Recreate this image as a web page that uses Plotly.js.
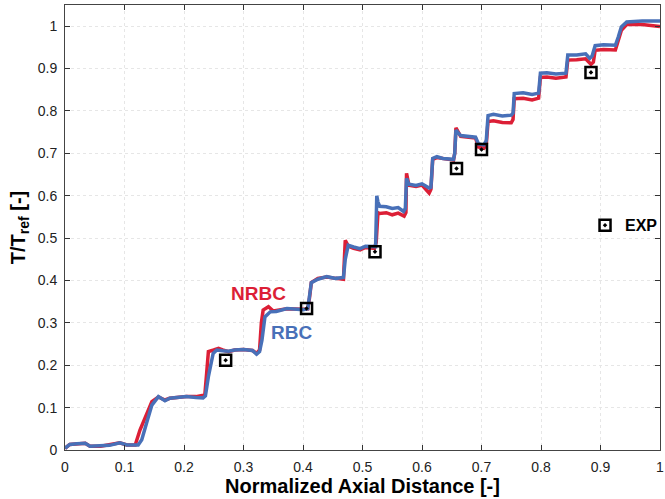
<!DOCTYPE html>
<html>
<head>
<meta charset="utf-8">
<script src="https://cdn.plot.ly/plotly-3.0.1.min.js"></script>
<style>html,body{margin:0;padding:0;background:#fff;}#chart{width:665px;height:499px;}</style>
</head>
<body>
<div id="chart"></div>
<script>
// RBC (blue)
const rbcX = [0,0.008,0.02,0.034,0.042,0.06,0.075,0.092,0.104,0.123,0.129,0.137,0.146,0.157,0.168,0.176,0.19,0.204,0.22,0.232,0.236,0.238,0.241,0.249,0.255,0.265,0.275,0.285,0.30,0.315,0.322,0.327,0.331,0.336,0.345,0.355,0.373,0.39,0.40,0.408,0.411,0.414,0.425,0.44,0.455,0.468,0.471,0.476,0.485,0.496,0.505,0.518,0.522,0.524,0.526,0.529,0.54,0.55,0.56,0.569,0.572,0.574,0.578,0.59,0.60,0.612,0.615,0.618,0.625,0.635,0.653,0.655,0.657,0.665,0.68,0.69,0.695,0.704,0.708,0.711,0.72,0.735,0.75,0.753,0.755,0.77,0.785,0.796,0.799,0.81,0.825,0.842,0.845,0.86,0.875,0.882,0.886,0.891,0.905,0.925,0.93,0.935,0.944,0.97,1.0];
const rbcY = [0.004,0.013,0.015,0.016,0.009,0.009,0.011,0.017,0.012,0.012,0.024,0.063,0.106,0.126,0.116,0.122,0.124,0.126,0.124,0.123,0.128,0.150,0.173,0.228,0.236,0.234,0.233,0.236,0.237,0.235,0.226,0.232,0.259,0.314,0.326,0.327,0.334,0.332,0.331,0.333,0.36,0.395,0.403,0.409,0.405,0.407,0.45,0.483,0.479,0.475,0.481,0.479,0.480,0.600,0.585,0.575,0.574,0.570,0.572,0.563,0.57,0.641,0.627,0.624,0.628,0.618,0.620,0.688,0.692,0.688,0.686,0.70,0.755,0.742,0.740,0.738,0.722,0.72,0.73,0.789,0.792,0.788,0.790,0.795,0.841,0.843,0.839,0.842,0.889,0.890,0.887,0.889,0.932,0.932,0.935,0.924,0.93,0.954,0.956,0.955,0.975,0.998,1.010,1.012,1.012];
// NRBC (red)
const nrbcX = [0,0.008,0.034,0.042,0.06,0.092,0.104,0.118,0.126,0.137,0.146,0.157,0.168,0.176,0.204,0.22,0.235,0.238,0.241,0.25,0.258,0.265,0.275,0.285,0.30,0.315,0.322,0.327,0.330,0.333,0.342,0.35,0.373,0.40,0.408,0.411,0.414,0.425,0.44,0.455,0.468,0.471,0.476,0.485,0.496,0.505,0.52,0.523,0.526,0.529,0.54,0.55,0.56,0.570,0.573,0.574,0.578,0.59,0.60,0.612,0.615,0.618,0.625,0.653,0.655,0.657,0.665,0.69,0.695,0.704,0.708,0.711,0.72,0.735,0.75,0.753,0.755,0.77,0.785,0.796,0.799,0.81,0.825,0.842,0.845,0.86,0.875,0.884,0.888,0.891,0.905,0.925,0.93,0.935,0.944,0.97,1.0];
const nrbcY = [0.004,0.013,0.016,0.009,0.009,0.017,0.012,0.012,0.047,0.087,0.114,0.125,0.118,0.122,0.126,0.126,0.130,0.18,0.232,0.236,0.240,0.236,0.232,0.236,0.237,0.235,0.228,0.236,0.300,0.330,0.338,0.328,0.333,0.332,0.333,0.36,0.395,0.405,0.408,0.405,0.403,0.495,0.481,0.476,0.472,0.478,0.476,0.49,0.56,0.558,0.560,0.555,0.559,0.552,0.56,0.653,0.625,0.622,0.625,0.606,0.615,0.686,0.690,0.684,0.70,0.760,0.740,0.736,0.715,0.712,0.72,0.775,0.777,0.773,0.772,0.78,0.829,0.830,0.826,0.830,0.879,0.880,0.877,0.880,0.920,0.921,0.923,0.910,0.915,0.943,0.945,0.944,0.965,0.990,1.004,1.004,0.999];
// Experiment
const expX = [0.270,0.406,0.521,0.658,0.700,0.884];
const expY = [0.212,0.334,0.468,0.664,0.709,0.891];
const tickVals = [0,0.1,0.2,0.3,0.4,0.5,0.6,0.7,0.8,0.9,1];
const tickText = ['0','0.1','0.2','0.3','0.4','0.5','0.6','0.7','0.8','0.9','1'];

const RED = '#dc1f36', BLUE = '#4870b8';
const traces = [
  {x: nrbcX, y: nrbcY, mode: 'lines', name: 'NRBC', showlegend: false, line: {color: RED, width: 3.5}},
  {x: rbcX, y: rbcY, mode: 'lines', name: 'RBC', showlegend: false, line: {color: BLUE, width: 3.5}},
  {x: expX, y: expY, mode: 'markers', name: '<b>EXP</b>', showlegend: true,
   marker: {symbol: 'square-open-dot', size: 11, color: '#000', line: {width: 2.5, color: '#000'}}}
];
const F = 'Liberation Sans, Arial, Helvetica, sans-serif';
const axisCommon = {
  tickvals: tickVals, ticktext: tickText, ticks: 'inside', ticklen: 5, tickcolor: '#333',
  showline: true, linecolor: '#444', linewidth: 1, mirror: 'ticks',
  showgrid: true, gridcolor: '#e6e6e6', griddash: 'dot', gridwidth: 1, zeroline: false,
  ticklabelstandoff: 4,
  tickfont: {family: F, size: 14, color: '#222'}
};
const layout = {
  width: 665, height: 499,
  margin: {l: 65, r: 5, t: 5, b: 49, autoexpand: false},
  paper_bgcolor: '#fff', plot_bgcolor: '#fff',
  font: {family: F},
  xaxis: Object.assign({}, axisCommon, {range: [0, 1], automargin: false,
    title: {text: '<b>Normalized Axial Distance [-]</b>', font: {family: F, size: 20, color: '#000'}, standoff: 4}}),
  yaxis: Object.assign({}, axisCommon, {range: [0, 1.05], automargin: false,
    title: {text: '<b>T/T<sub>ref</sub> [-]</b>', font: {family: F, size: 20, color: '#000'}, standoff: 6}}),
  legend: {x: 0.874, y: 0.505, xanchor: 'left', yanchor: 'middle', bgcolor: 'rgba(0,0,0,0)',
    font: {family: F, size: 16, color: '#000'}, itemwidth: 30},
  annotations: [
    {x: 0.325, y: 0.370, xref: 'x', yref: 'y', text: '<b>NRBC</b>', showarrow: false,
     font: {family: F, size: 19, color: RED}},
    {x: 0.381, y: 0.278, xref: 'x', yref: 'y', text: '<b>RBC</b>', showarrow: false,
     font: {family: F, size: 19, color: BLUE}}
  ]
};
Plotly.newPlot('chart', traces, layout, {displayModeBar: false, staticPlot: true});
</script>
</body>
</html>
